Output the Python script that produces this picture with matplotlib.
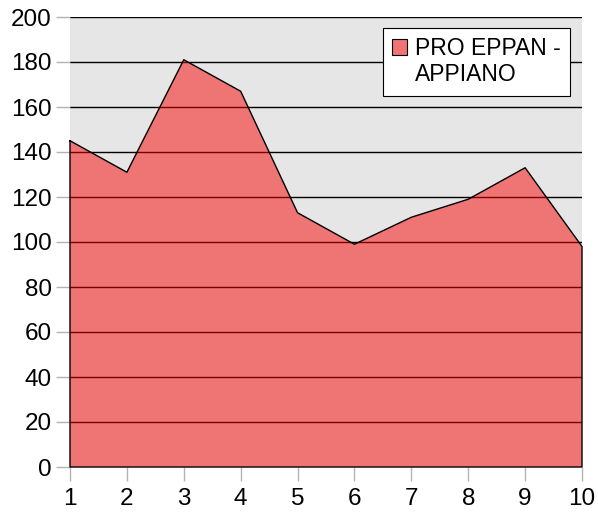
import matplotlib.pyplot as plt
from matplotlib.patches import Patch

plt.rcParams['font.family'] = ['Liberation Sans', 'DejaVu Sans']

x = [1, 2, 3, 4, 5, 6, 7, 8, 9, 10]
values = [145, 131, 181, 167, 113, 99, 111, 119, 133, 98]
label_lines = ['PRO EPPAN -', 'APPIANO']

fig = plt.figure(figsize=(5.98, 5.15), dpi=100)
ax = fig.add_axes([70 / 598, 48 / 515, 512 / 598, 450 / 515])
ax.set_facecolor('#e6e6e6')

for y in range(20, 201, 20):
    ax.axhline(y, color='black', lw=1.0, zorder=1)

ax.fill_between(x, values, 0, facecolor=(0.98, 0.0, 0.0, 0.495),
                edgecolor='none', zorder=2)
ax.plot(x + [10, 1, 1], values + [0, 0, values[0]], color='black', lw=1.0,
        zorder=3, clip_on=False)

ax.set_xlim(1, 10)
ax.set_ylim(0, 200)
ax.set_xticks(x)
ax.set_yticks(range(0, 201, 20))
for s in ax.spines.values():
    s.set_visible(False)
ax.tick_params(axis='both', colors='#b3b3b3', labelcolor='black',
               labelsize=17.5, length=10, width=1)
ax.tick_params(axis='x', pad=5)
ax.tick_params(axis='y', pad=3)

# second legend row carries only the wrapped text, so the swatch sits on line one
handles = [Patch(facecolor='#f07474', edgecolor='black', lw=0.8),
           Patch(facecolor='none', edgecolor='none')]
leg = ax.legend(handles=handles, labels=label_lines, loc='upper right',
                bbox_to_anchor=(0.977, 0.976), borderaxespad=0,
                fontsize=16.5, frameon=True, fancybox=False, edgecolor='black',
                framealpha=1, handlelength=0.66, handleheight=0.66,
                handletextpad=0.36, borderpad=0.4, labelspacing=0.15)
leg.get_frame().set_linewidth(0.8)

fig.savefig('out.png', dpi=100)
